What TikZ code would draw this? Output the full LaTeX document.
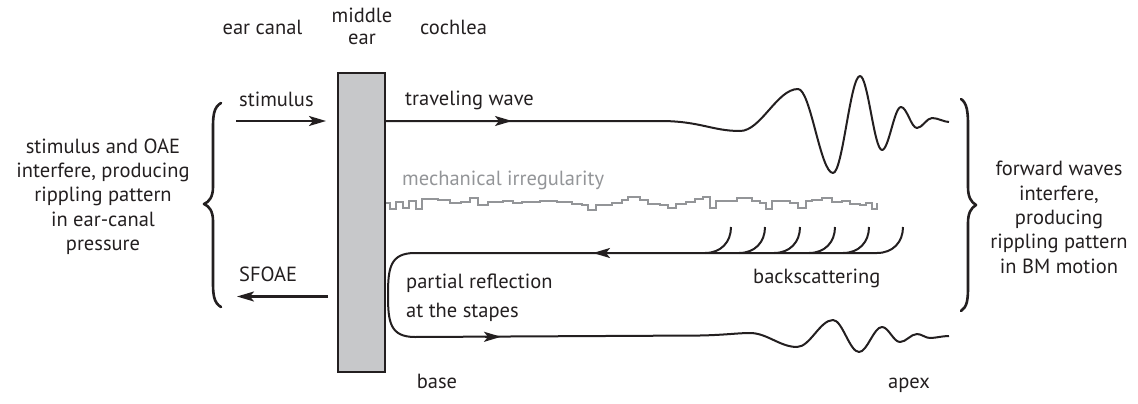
\documentclass[tikz,border=0pt]{standalone}
\usepackage{fontspec}
\setmainfont{PT Sans}
\usetikzlibrary{arrows.meta}
\definecolor{ink}{HTML}{231F20}
\definecolor{irreg}{HTML}{939598}
\definecolor{boxgray}{HTML}{C7C8CA}

\begin{document}
\begin{tikzpicture}[x=1pt,y=-1pt,
  lbl/.style={font=\fontsize{20.5}{24.3}\selectfont, text=ink, inner sep=0pt, anchor=base},
  wave/.style={draw=ink, line width=2pt, line join=round},
  arr/.style={draw=ink, line width=2.2pt, -{Stealth[length=17pt,width=10pt,inset=4pt]}},
  brace/.style={draw=ink, line width=2.6pt, line cap=round, line join=round},
  stair/.style={draw=irreg, line width=1.3pt}
]
\useasboundingbox (0,0) rectangle (1138,404);

% region headings (multi-line nodes sit on the baseline of their last line)
\node[lbl] (earcanal) at (262.5,35) {ear canal};
\node[lbl, align=center, font=\fontsize{20.5}{22.5}\selectfont] (middle) at (362,45) {middle\\ear};
\node[lbl, anchor=base west] (cochlea) at (420,35) {cochlea};

% middle ear block
\node[draw=ink, fill=boxgray, line width=1.6pt, minimum width=47pt, minimum height=299pt, inner sep=0pt] (me) at (361.5,222.5) {};

% ear canal: stimulus in, emission out
\node[lbl, anchor=base west] (stim) at (239,106.7) {stimulus};
\coordinate (stimA) at (236,121);
\coordinate (stimB) at (326,121);
\draw[arr] (stimA) -- (stimB);
\node[lbl, anchor=base west] (sfoae) at (239,281.7) {SFOAE};
\coordinate (sfA) at (328,296.5);
\coordinate (sfB) at (237,296.5);
\draw[arr] (sfA) -- (sfB);

% side notes with braces
\node[lbl, align=center] (lefttext) at (103,250.5) {stimulus and OAE\\interfere, producing\\rippling pattern\\in ear-canal\\pressure};
\draw[brace] (221,103) .. controls (214,107) and (213,115) .. (213,127) -- (213,187)
  .. controls (213,197) and (209,202) .. (204,204) .. controls (209,206) and (213,211) .. (213,221)
  -- (213,283) .. controls (213,295) and (214,303) .. (221,307);
\node[lbl, align=center] (righttext) at (1059,273) {forward waves\\interfere,\\producing\\rippling pattern\\in BM motion};
\draw[brace] (961,99) .. controls (967,103) and (968,112) .. (968,125) -- (968,187)
  .. controls (968,197) and (971,202) .. (976,205) .. controls (971,208) and (968,213) .. (968,223)
  -- (968,287) .. controls (968,300) and (967,307) .. (961,311);

% forward traveling wave
\node[lbl, anchor=base west] (tw) at (405,105) {traveling wave};
\draw[wave] (me.east |- 0,121) -- (660,121) .. controls (700,121) and (712,131) .. (740,131)
  .. controls (761,131) and (777,89) .. (798,89)
  .. controls (810.6,89) and (820.4,173) .. (833,173)
  .. controls (842.7,173) and (850.3,76) .. (860,76)
  .. controls (867.9,76) and (874.1,150) .. (882,150)
  .. controls (888.8,150) and (894.2,107) .. (901,107)
  .. controls (906.8,107) and (911.2,128) .. (917,128)
  .. controls (922.4,128) and (926.6,118) .. (932,118)
  .. controls (938,118) and (944,122) .. (949,122);
\coordinate (twA) at (495,121);
\coordinate (twB) at (512,121);
\draw[arr] (twA) -- (twB);

% mechanical irregularity profile
\node[lbl, anchor=base west, text=irreg] (mi) at (402,185) {mechanical irregularity};
\draw[stair] (me.east |- 0,203) \foreach \x/\y in {
  390/209, 396/202, 403/208, 409/201, 416/209, 422/199, 438/200, 450/203, 461/202,
  470/198, 478/205, 488/202, 503/201, 513/203, 522/202, 540/201, 557/202, 572/204,
  582/205, 588/210, 596/205, 612/203, 622/200, 628/197, 640/200, 648/204, 660/205,
  668/208, 676/204, 686/202, 695/199, 703/197, 710/208, 716/201, 737/198, 752/201,
  760/203, 766/209, 772/201, 790/203, 798/208, 806/201, 812/200, 822/198, 832/202,
  842/201, 850/204, 860/205, 866/203, 872/209, 877/203} { -| (\x,\y) };

% backscattered wavelets joining the reverse wave
\foreach \x in {731,765,800,835,869}
  \draw[wave] (\x,227) .. controls (\x,242) and ({\x-10},253) .. ({\x-26},253);
\node[lbl, anchor=base west] (bs) at (753,283) {backscattering};
\draw[wave] (903,227) .. controls (903,242) and (893,253) .. (877,253) -- (415,253)
  .. controls (390,253) and (388,268) .. (388,295)
  .. controls (388,322) and (390,337) .. (415,337)
  -- (700,335.5) .. controls (725,335) and (738,333) .. (750,333)
  .. controls (767,333) and (780,347) .. (797,347)
  .. controls (810,347) and (820,320) .. (833,320)
  .. controls (842.4,320) and (849.6,352) .. (859,352)
  .. controls (867.3,352) and (873.7,327) .. (882,327)
  .. controls (888.5,327) and (893.5,342) .. (900,342)
  .. controls (906.1,342) and (910.9,334) .. (917,334)
  .. controls (921.7,334) and (925.3,338) .. (930,338)
  .. controls (936,338) and (942,336) .. (949,336);
\coordinate (bkA) at (610,253);
\coordinate (bkB) at (593,253);
\draw[arr] (bkA) -- (bkB);
\coordinate (rfA) at (485,336.8);
\coordinate (rfB) at (501,336.8);
\draw[arr] (rfA) -- (rfB);
\node[lbl, anchor=base west, align=left, font=\fontsize{20.5}{29}\selectfont] (pr) at (406,317) {partial reflection\\at the stapes};

% cochlear ends
\node[lbl] (base) at (437,388) {base};
\node[lbl] (apex) at (909,388) {apex};
\end{tikzpicture}
\end{document}
